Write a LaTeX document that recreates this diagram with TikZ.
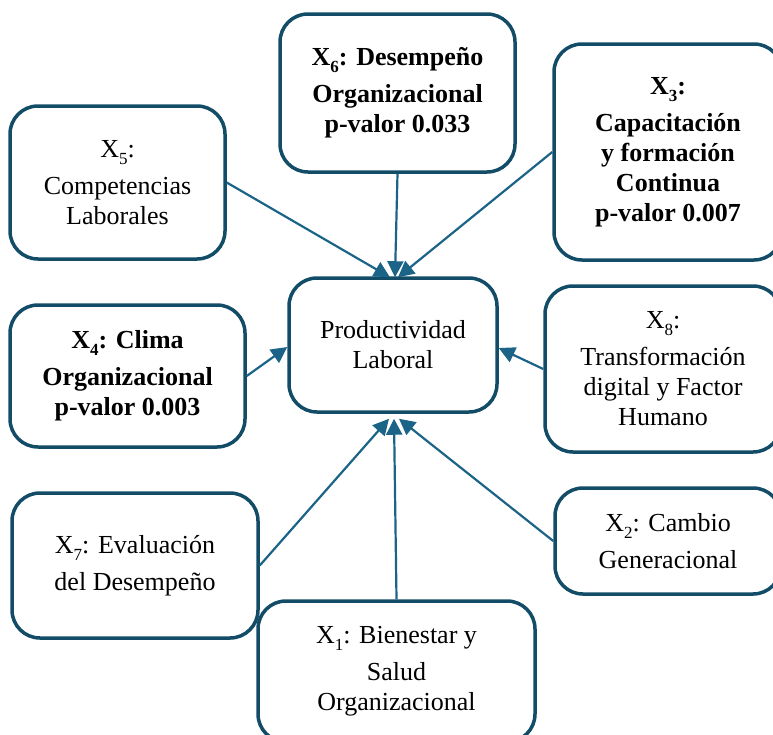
\documentclass[tikz,border=0pt]{standalone}
\usepackage{fontspec}
\setmainfont{Liberation Serif}
\usetikzlibrary{arrows.meta,calc}
\definecolor{boxc}{RGB}{18,76,102}
\definecolor{arrc}{RGB}{27,100,135}
\newcommand\subx[1]{\raisebox{-7pt}{\fontsize{17}{17}\selectfont #1}}
\tikzset{
  box/.style={draw=boxc, line width=3.5pt, rounded corners=28pt, fill=white,
    align=center, inner sep=0pt, font=\fontsize{26}{30}\selectfont},
  boldbox/.style={box, font=\fontsize{26}{30}\selectfont\bfseries},
  conn/.style={draw=arrc, line width=2.2pt, -{Triangle[length=16pt,width=16pt]}}
}
\begin{document}
\begin{tikzpicture}[x=1pt,y=-1pt]
\useasboundingbox (0,0) rectangle (773,734);
\clip (0,0) rectangle (773,734);
\node[box, minimum width=208pt, minimum height=134pt] (c) at (393,345) {Productividad\\Laboral};
\node[boldbox, minimum width=235pt, minimum height=158pt] (x6) at (397.5,93) {X\subx{6}: Desempeño\\[7pt]Organizacional\\p-valor 0.033};
\node[box, minimum width=215pt, minimum height=153pt] (x5) at (117.5,182.5) {X\subx{5}:\\[7pt]Competencias\\Laborales};
\node[boldbox, minimum width=228pt, minimum height=216pt] (x3) at (668,152) {X\subx{3}:\\[7pt]Capacitación\\y formación\\Continua\\p-valor 0.007};
\node[boldbox, minimum width=235pt, minimum height=142pt] (x4) at (127.5,376) {X\subx{4}: Clima\\[7pt]Organizacional\\p-valor 0.003};
\node[box, minimum width=236pt, minimum height=166pt] (x8) at (663,369) {X\subx{8}:\\[7pt]Transformación\\digital y Factor\\Humano};
\node[box, minimum width=246pt, minimum height=145pt] (x7) at (135,565.5) {X\subx{7}: Evaluación\\[7pt]del Desempeño};
\node[box, minimum width=226pt, minimum height=106pt] (x2) at (668,541) {X\subx{2}: Cambio\\[7pt]Generacional};
\node[box, minimum width=277pt, minimum height=141pt] (x1) at (396.5,671.5) {X\subx{1}: Bienestar y\\[7pt]Salud\\Organizacional};
\coordinate (t5) at ($(c.north)+(-3,1)$);
\coordinate (t6) at ($(c.north)+(2,1)$);
\coordinate (t3) at ($(c.north)+(5,1)$);
\coordinate (b7) at ($(c.south)+(-4,5)$);
\coordinate (b1) at ($(c.south)+(1,5)$);
\coordinate (b2) at ($(c.south)+(6,5)$);
\draw[conn] (x5.east) -- (t5);
\draw[conn] (x6.south) -- (t6);
\draw[conn] (x3.west) -- (t3);
\draw[conn] (x4.east) -- ($(c.west)+(0,2)$);
\draw[conn] (x8.west) -- ($(c.east)+(0,3)$);
\draw[conn] (x7.east) -- (b7);
\draw[conn] (x1.north) -- (b1);
\draw[conn] (x2.west) -- (b2);
\end{tikzpicture}
\end{document}
